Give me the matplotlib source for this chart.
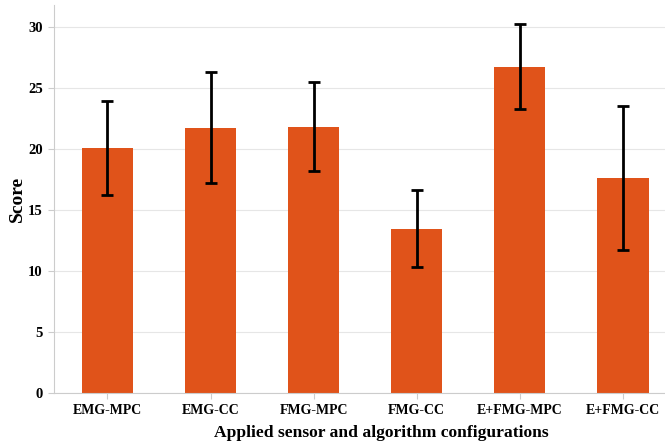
import numpy as np
import matplotlib.pyplot as plt

configs = ['EMG-MPC', 'EMG-CC', 'FMG-MPC', 'FMG-CC', 'E+FMG-MPC', 'E+FMG-CC']
scores = [20.05, 21.75, 21.8, 13.45, 26.75, 17.6]
errors = [3.85, 4.55, 3.65, 3.15, 3.45, 5.9]

plt.rcParams['font.family'] = ['Liberation Serif', 'DejaVu Serif']
plt.rcParams['font.weight'] = 'bold'

fig = plt.figure(figsize=(6.65, 4.46), dpi=100)
ax = fig.add_axes([0.081, 0.119, 0.919, 0.87])

x = np.arange(len(configs))
ax.bar(x, scores, width=0.5, color='#E0531A', zorder=2)
ax.errorbar(x, scores, yerr=errors, fmt='none', ecolor='black',
            elinewidth=2, capsize=4, capthick=2, zorder=3)

ax.set_xlim(-0.52, 5.41)
ax.set_ylim(0, 31.8)
ax.set_yticks(range(0, 31, 5))
ax.set_xticks(x)
ax.set_xticklabels(configs, fontsize=10, fontweight='bold')
for lab in ax.get_yticklabels():
    lab.set_fontsize(10.5)
    lab.set_fontweight('bold')

ax.yaxis.grid(True, color='#e6e6e6', linewidth=0.8, zorder=0)
ax.set_axisbelow(True)
for s in ['top', 'right']:
    ax.spines[s].set_visible(False)
for s in ['left', 'bottom']:
    ax.spines[s].set_color('#cccccc')
    ax.spines[s].set_linewidth(0.8)
ax.tick_params(axis='both', length=4, color='#cccccc', pad=4)

ax.set_ylabel('Score', fontsize=14, fontweight='bold')
ax.yaxis.label.set_ha('center')
ax.yaxis.label.set_va('center')
ax.yaxis.set_label_coords(-0.06, 0.5)
ax.set_xlabel('Applied sensor and algorithm configurations', fontsize=12.6,
              fontweight='bold')
ax.xaxis.label.set_va('center')
ax.xaxis.set_label_coords(0.535, -0.103)

fig.savefig('out.png', dpi=100)
